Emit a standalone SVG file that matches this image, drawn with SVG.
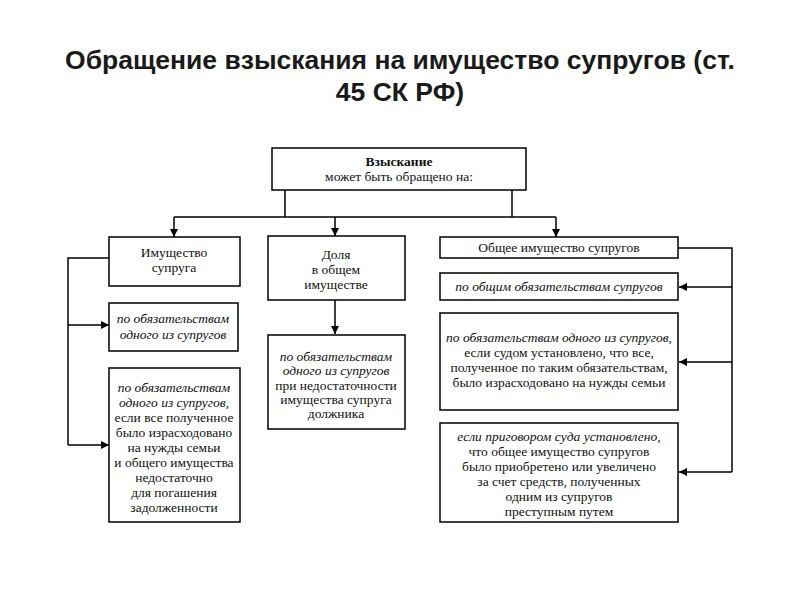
<svg xmlns="http://www.w3.org/2000/svg" width="800" height="600" viewBox="0 0 800 600">
<defs>
<marker id="arr" viewBox="0 0 10 10" refX="10" refY="5" markerWidth="8" markerHeight="8" markerUnits="userSpaceOnUse" orient="auto">
<path d="M0,0 L10,5 L0,10 z" fill="#000"/>
</marker>
<style>
.title{font-family:"Liberation Sans",Arial,sans-serif;font-weight:bold;font-size:26.5px;fill:#1a1a1a;text-anchor:middle}
.box{fill:#fff;stroke:#000;stroke-width:1.5}
.t{font-family:"Liberation Serif","Times New Roman",serif;font-size:13.5px;fill:#111;text-anchor:middle}
.i{font-style:italic}
.b{font-weight:bold}
.c{fill:none;stroke:#000;stroke-width:1.5}
.ca{fill:none;stroke:#000;stroke-width:1.5;marker-end:url(#arr)}
</style>
</defs>
<rect width="800" height="600" fill="#fff"/>
<text class="title" x="400" y="69">Обращение взыскания на имущество супругов (ст.</text>
<text class="title" x="400" y="101">45 СК РФ)</text>

<g id="connectors">
<path class="c" d="M285,190 V217 M512,190 V217 M174,217 H556"/>
<path class="ca" d="M174,217 V237"/>
<path class="ca" d="M335,217 V236"/>
<path class="ca" d="M556,217 V237"/>
<path class="c" d="M109,258 H68 V445"/>
<path class="ca" d="M68,325 H109"/>
<path class="ca" d="M68,445 H109"/>
<path class="ca" d="M335,300 V334"/>
<path class="c" d="M678,248 H732 V472"/>
<path class="ca" d="M732,287 H679"/>
<path class="ca" d="M732,362 H679"/>
<path class="ca" d="M732,472 H679"/>
</g>

<g id="top">
<rect class="box" x="272" y="148" width="254" height="42"/>
<text class="t b" x="399" y="166">Взыскание</text>
<text class="t" x="399" y="181">может быть обращено на:</text>
</g>

<g id="spouse-property">
<rect class="box" x="109" y="237" width="131" height="49"/>
<text class="t" x="174" y="257">Имущество</text>
<text class="t" x="174" y="272">супруга</text>
</g>

<g id="share">
<rect class="box" x="268" y="236" width="137" height="64"/>
<text class="t" x="336" y="259">Доля</text>
<text class="t" x="336" y="274">в общем</text>
<text class="t" x="336" y="289">имуществе</text>
</g>

<g id="common-property">
<rect class="box" x="440" y="237" width="238" height="21"/>
<text class="t" x="559" y="252">Общее имущество супругов</text>
</g>

<g id="left-1">
<rect class="box" x="109" y="303" width="129" height="48"/>
<text class="t i" x="173" y="323">по обязательствам</text>
<text class="t i" x="173" y="339">одного из супругов</text>
</g>

<g id="left-2">
<rect class="box" x="109" y="368" width="131" height="154"/>
<text class="t i" x="174" y="392">по обязательствам</text>
<text class="t i" x="174" y="407">одного из супругов,</text>
<text class="t" x="174" y="422">если все полученное</text>
<text class="t" x="174" y="437">было израсходовано</text>
<text class="t" x="174" y="452">на нужды семьи</text>
<text class="t" x="174" y="467">и общего имущества</text>
<text class="t" x="174" y="482">недостаточно</text>
<text class="t" x="174" y="497">для погашения</text>
<text class="t" x="174" y="512">задолженности</text>
</g>

<g id="middle-1">
<rect class="box" x="268" y="335" width="137" height="94"/>
<text class="t i" x="336" y="361">по обязательствам</text>
<text class="t i" x="336" y="375">одного из супругов</text>
<text class="t" x="336" y="390">при недостаточности</text>
<text class="t" x="336" y="404">имущества супруга</text>
<text class="t" x="336" y="418">должника</text>
</g>

<g id="right-1">
<rect class="box" x="440" y="273" width="238" height="27"/>
<text class="t i" x="559" y="291">по общим обязательствам супругов</text>
</g>

<g id="right-2">
<rect class="box" x="440" y="313" width="238" height="97"/>
<text class="t i" x="559" y="342">по обязательствам одного из супругов,</text>
<text class="t" x="559" y="357">если судом установлено, что все,</text>
<text class="t" x="559" y="372">полученное по таким обязательствам,</text>
<text class="t" x="559" y="387">было израсходовано на нужды семьи</text>
</g>

<g id="right-3">
<rect class="box" x="440" y="423" width="238" height="99"/>
<text class="t i" x="559" y="441">если приговором суда установлено,</text>
<text class="t" x="559" y="456">что общее имущество супругов</text>
<text class="t" x="559" y="471">было приобретено или увеличено</text>
<text class="t" x="559" y="486">за счет средств, полученных</text>
<text class="t" x="559" y="501">одним из супругов</text>
<text class="t" x="559" y="516">преступным путем</text>
</g>
</svg>
